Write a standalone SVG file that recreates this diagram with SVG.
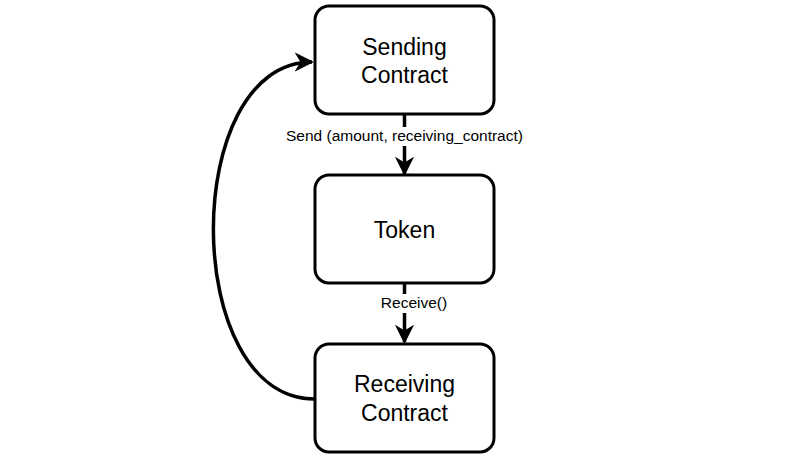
<svg xmlns="http://www.w3.org/2000/svg" width="796" height="459" viewBox="0 0 796 459">
<defs>
<style>
.box{fill:#fff;stroke:#000;stroke-width:3}
.t{font-family:"Liberation Sans",Arial,sans-serif;font-size:23px;fill:#000;text-anchor:middle}
.l{font-family:"Liberation Sans",Arial,sans-serif;font-size:15.5px;fill:#000;text-anchor:middle}
.c{fill:none;stroke:#000;stroke-width:3.5}
.lb{fill:#fff}
</style>
<marker id="ah" viewBox="0 0 10 10" refX="9" refY="5" markerWidth="5.5" markerHeight="5.5" orient="auto" markerUnits="strokeWidth">
<path d="M0,0 L10,5 L0,10 L3,5 Z" fill="#000"/>
</marker>
</defs>
<rect width="796" height="459" fill="#fff"/>
<g id="connectors">
<path class="c" d="M404.5,115 L404.5,174" marker-end="url(#ah)"/>
<path class="c" d="M404.5,283 L404.5,342" marker-end="url(#ah)"/>
<path class="c" d="M315,399 C180,399 180,62 312,62" marker-end="url(#ah)"/>
<rect class="lb" x="281" y="127" width="247" height="19"/>
<text class="l" x="404.5" y="141">Send (amount, receiving_contract)</text>
<rect class="lb" x="376" y="294" width="57" height="19"/>
<text class="l" x="414" y="308">Receive()</text>
</g>
<g id="sending">
<rect class="box" x="315" y="6" width="179" height="108" rx="14"/>
<text class="t" x="404.5" y="55">Sending</text>
<text class="t" x="404.5" y="83">Contract</text>
</g>
<g id="token">
<rect class="box" x="315" y="175" width="179" height="108" rx="14"/>
<text class="t" x="404.5" y="238">Token</text>
</g>
<g id="receiving">
<rect class="box" x="315" y="344" width="179" height="108" rx="14"/>
<text class="t" x="404.5" y="392">Receiving</text>
<text class="t" x="404.5" y="421">Contract</text>
</g>
</svg>
